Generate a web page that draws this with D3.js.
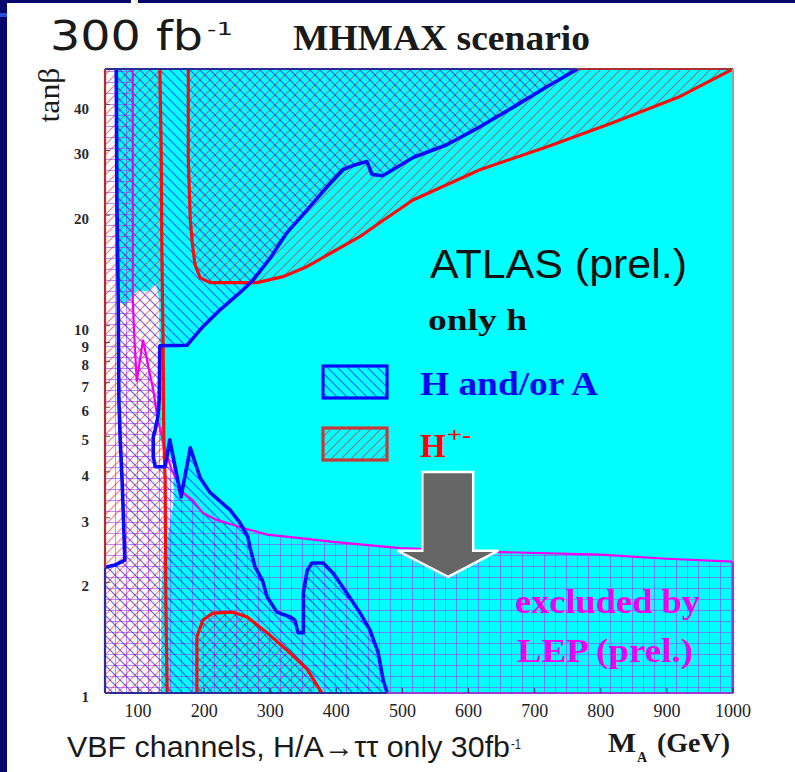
<!DOCTYPE html>
<html><head><meta charset="utf-8">
<script src="https://cdn.jsdelivr.net/npm/d3@7/dist/d3.min.js"></script>
<style>body{margin:0;background:#fff}svg{display:block}</style>
</head><body>
<svg id="c" width="795" height="772"></svg>
<script>
// ---------- data (MA in GeV, tan beta) ----------
const xTickValues = [100,200,300,400,500,600,700,800,900,1000];
const yTickValues = [1,2,3,4,5,6,7,8,9,10,20,30,40];

// H and/or A discovery region boundaries
const haLeftEdge = [[50,2.20],[65,2.23],[80,2.30],[79,2.61],[76,3.74],[73,4.89],[71,6.3],[70,11.8],[68,22.0],[67,50]];
const haRightEdge = [[765,50],[719,44.8],[667,39.3],[617,34.8],[567,31.1],[516,28.7],[496,27.3],[470,25.6],[454,25.8],[446,28.0],[425,27.3],[410,26.6],[386,23.9],[356,20.7],[325,17.9],[300,15.3],[274,13.3],[254,12.3],[224,11.05],[198,9.94],[174,8.85],[133,8.82],[132,6.3],[130,5.65],[126,5.21],[123,4.98],[123,4.40],[126,4.13],[141,4.13],[148,4.89],[165,3.42],[179,4.65],[194,3.85],[209,3.51],[239,3.15],[254,2.91],[266,2.66],[269,2.50],[277,2.20],[288,2.03],[295,1.83],[310,1.66],[330,1.61],[337,1.58],[342,1.46],[350,1.46],[350,1.87],[356,2.16],[363,2.26],[380,2.26],[395,2.12],[416,1.87],[436,1.65],[451,1.48],[463,1.29],[471,1.08],[477,1]];

// H+- discovery region boundaries
const hcLeftEdge = [[133,50],[135,30],[136,16],[138,8.6],[139,4.9],[141,3.8],[142,1.8],[144,1]];
const hcUpperEdge = [[176,50],[176,28.3],[179,19.4],[182,16.8],[186,14.7],[194,13.5],[209,13.1],[280,13.1],[319,13.6],[356,14.5],[395,15.9],[436,17.5],[466,19.1],[516,22.0],[617,26.6],[719,30.7],[818,35.7],[920,42.1],[1000,50]];
const hcLowEdge = [[189,1],[189,1.42],[198,1.58],[213,1.65],[244,1.66],[265,1.61],[295,1.46],[325,1.31],[356,1.16],[378,1]];

// LEP excluded region boundary
const lepEdge = [[92,50],[92,22],[92,11.8],[94,9.6],[98,7.04],[107.5,9.16],[115,7.83],[123,6.69],[130,5.54],[141,4.59],[151,4.05],[168,3.51],[182,3.36],[198,3.09],[219,2.96],[254,2.83],[295,2.70],[345,2.64],[395,2.58],[496,2.48],[648,2.42],[799,2.38],[900,2.32],[1000,2.28]];

// region with no discovery (not cyan)
const noDiscovery = [[50,50],[68,50],[70,22],[71,11.8],[80,11.3],[91,12.1],[100,12.5],[115,12.4],[127,13.1],[132,11.8],[133,4.89],[142,4.54],[153,4.26],[154,3.36],[148,2.87],[138,2.30],[135,1.79],[135,1],[50,1]];

// annotation arrow (data units)
const arrowShape = [[530,4.0],[607,4.0],[607,2.44],[645,2.44],[569,2.07],[492,2.44],[530,2.44]];

// ---------- scales ----------
const svg = d3.select('#c');
const x = d3.scaleLinear().domain([50,1000]).range([105,733]);
const y = d3.scaleLog().domain([1,50]).range([693,69]);
const line = d3.line().x(d=>x(d[0])).y(d=>y(d[1]));
const poly = pts => line(pts) + 'Z';
const [x0,x1] = x.domain(), [y0,y1] = y.domain();

// page decoration
svg.append('rect').attr('x',0).attr('y',0).attr('width',795).attr('height',772).attr('fill','#fff');
svg.append('rect').attr('x',0).attr('y',0).attr('width',795).attr('height',3).attr('fill','#07076e');
svg.append('rect').attr('x',0).attr('y',0).attr('width',7).attr('height',772).attr('fill','#07076e');
svg.append('rect').attr('x',131).attr('y',0).attr('width',4).attr('height',4).attr('fill','#fff');
svg.append('rect').attr('x',135).attr('y',0).attr('width',3).attr('height',5).attr('fill','#f4f0c8');
svg.append('rect').attr('x',0).attr('y',13).attr('width',7).attr('height',4).attr('fill','#2a4ad8');

// ---------- patterns ----------
const defs = svg.append('defs');
defs.append('clipPath').attr('id','plot').append('rect')
  .attr('x',x(x0)).attr('y',y(y1)).attr('width',x(x1)-x(x0)).attr('height',y(y0)-y(y1));

function hatch(id, color, op, w, dir, s){
  const p = defs.append('pattern').attr('id',id).attr('patternUnits','userSpaceOnUse')
    .attr('width',s).attr('height',s);
  const segs = dir==='back'
    ? [[0,0,s,s],[s-2,-2,s+2,2],[-2,s-2,2,s+2]]
    : [[0,s,s,0],[-2,2,2,-2],[s-2,s+2,s+2,s-2]];
  segs.forEach(g=>p.append('line').attr('x1',g[0]).attr('y1',g[1]).attr('x2',g[2]).attr('y2',g[3])
    .attr('stroke',color).attr('stroke-opacity',op).attr('stroke-width',w));
}
hatch('blueH','#0000ff',0.6,1.2,'back',10);
hatch('redH','#ff0000',0.5,1.2,'fwd',10);
const g11 = defs.append('pattern').attr('id','grid').attr('patternUnits','userSpaceOnUse').attr('width',11).attr('height',11);
g11.append('path').attr('d','M0,5.5H11M5.5,0V11').attr('stroke','#9a40ff').attr('stroke-opacity',0.6).attr('stroke-width',1).attr('fill','none');

// ---------- plot ----------
const plot = svg.append('g').attr('clip-path','url(#plot)');
plot.append('rect').attr('x',x(x0)).attr('y',y(y1)).attr('width',x(x1)-x(x0)).attr('height',y(y0)-y(y1)).attr('fill','#00ffff');
plot.append('path').attr('d',poly(noDiscovery)).attr('fill','#ffffff');

const lepRegion = [[x0,y1],...lepEdge,[x1,y0],[x0,y0]];
const haRegion = [[x0,y0],...haLeftEdge,...haRightEdge];
const hcLeftRegion = [[x0,y1],...hcLeftEdge,[x0,y0]];

plot.append('path').attr('d',poly(lepRegion)).attr('fill','url(#grid)');
plot.append('path').attr('d',poly(haRegion)).attr('fill','url(#blueH)');
[hcLeftRegion,hcUpperEdge,hcLowEdge].forEach(r=>plot.append('path').attr('d',poly(r)).attr('fill','url(#redH)'));

// boundary lines
plot.append('path').attr('d',line(lepEdge)).attr('fill','none').attr('stroke','#f000f0').attr('stroke-width',2.2);
[hcLeftEdge,hcUpperEdge,hcLowEdge].forEach(r=>plot.append('path').attr('d',line(r)).attr('fill','none')
  .attr('stroke','#ff0a0a').attr('stroke-width',3.2).attr('stroke-linejoin','round'));
[haLeftEdge,haRightEdge].forEach(r=>plot.append('path').attr('d',line(r)).attr('fill','none')
  .attr('stroke','#0a0aff').attr('stroke-width',3.6).attr('stroke-linejoin','round'));

// frame segments (coloured by adjoining region)
const haTop = haRightEdge[0][0], haBottom = haRightEdge[haRightEdge.length-1][0];
const lepRight = lepEdge[lepEdge.length-1][1], haLeftLow = haLeftEdge[0][1];
const frame = [
  [[[x0,y1],[haTop,y1]],'#2c2c96'],
  [[[haTop,y1],[x1,y1]],'#a83030'],
  [[[x1,y1],[x1,lepRight]],'#8fa6a6'],
  [[[x1,lepRight],[x1,y0]],'#9a3ccc'],
  [[[x1,y0],[haBottom,y0]],'#9a3ccc'],
  [[[haBottom,y0],[x0,y0]],'#2c2c96'],
  [[[x0,y0],[x0,haLeftLow]],'#2c2c96'],
  [[[x0,haLeftLow],[x0,y1]],'#a83030']
];
frame.forEach(f=>svg.append('path').attr('d',line(f[0])).attr('stroke',f[1]).attr('stroke-width',2.2).attr('fill','none'));

// ticks
svg.selectAll('.yt').data(yTickValues).enter().append('line')
  .attr('x1',x(x0)).attr('x2',x(x0)+5).attr('y1',d=>y(d)).attr('y2',d=>y(d)).attr('stroke','#704040').attr('stroke-width',1);
svg.selectAll('.xt').data(xTickValues).enter().append('line')
  .attr('x1',d=>x(d)).attr('x2',d=>x(d)).attr('y1',y(y0)).attr('y2',y(y0)-5).attr('stroke','#303070').attr('stroke-width',1);

// tick labels
svg.selectAll('.yl').data(yTickValues).enter().append('text')
  .attr('x',x(x0)-16).attr('y',d=>y(d)+9).attr('text-anchor','end')
  .attr('font-family','Liberation Serif, serif').attr('font-size',15).attr('font-weight','bold').attr('fill','#2a2a2a').text(d=>d);
svg.selectAll('.xl').data(xTickValues).enter().append('text')
  .attr('x',d=>x(d)).attr('y',717).attr('text-anchor','middle')
  .attr('font-family','Liberation Serif, serif').attr('font-size',18).attr('fill','#222').text(d=>d);

// arrow
svg.append('path').attr('d',poly(arrowShape)).attr('fill','#666666').attr('stroke','#ffffff').attr('stroke-width',2.5).attr('stroke-linejoin','miter');

// legend boxes
svg.append('rect').attr('x',323).attr('y',366).attr('width',64).attr('height',32).attr('fill','url(#blueH)').attr('stroke','#0a0aff').attr('stroke-width',3.2);
svg.append('rect').attr('x',323).attr('y',428).attr('width',64).attr('height',32).attr('fill','url(#redH)').attr('stroke','#c83a3a').attr('stroke-width',3.2);

// texts
function txt(t,xp,yp,o){
  const e = svg.append('text').attr('x',xp).attr('y',yp).text(t)
    .attr('font-family',o.ff).attr('font-size',o.fs).attr('fill',o.fill||'#111')
    .attr('font-weight',o.fw||'normal');
  if(o.tl) e.attr('textLength',o.tl).attr('lengthAdjust','spacingAndGlyphs');
  if(o.anchor) e.attr('text-anchor',o.anchor);
  return e;
}
const SANS='DejaVu Sans, Verdana, sans-serif', ARIAL='Liberation Sans, Arial, sans-serif', SERIF='Liberation Serif, Times New Roman, serif';
txt('300 fb',50,50,{ff:SANS,fs:41,tl:153,fill:'#1a1a1a'});
txt('-1',207,35,{ff:SANS,fs:17,tl:26,fill:'#1a1a1a'});
txt('MHMAX scenario',293,50,{ff:SERIF,fs:36,fw:'bold',tl:297,fill:'#1a1a1a'});
txt('tanβ',0,0,{ff:SERIF,fs:30,tl:55,anchor:'middle',fill:'#1a1a1a'}).attr('transform','translate(59,95) rotate(-90)');
txt('ATLAS (prel.)',430,278,{ff:ARIAL,fs:40,tl:257});
txt('only h',428,330,{ff:SERIF,fs:30,fw:'bold',tl:99});
txt('H and/or A',420,395,{ff:SERIF,fs:34,fw:'bold',tl:178,fill:'#0808ee'});
txt('H',420,457,{ff:SERIF,fs:33,fw:'bold',fill:'#ff0000'});
txt('+-',447,442,{ff:SERIF,fs:22,fw:'bold',tl:24,fill:'#ff0000'});
txt('excluded by',515,613,{ff:SERIF,fs:34,fw:'bold',tl:185,fill:'#f000f0'});
txt('LEP (prel.)',517,662,{ff:SERIF,fs:34,fw:'bold',tl:176,fill:'#f000f0'});
txt('VBF channels, H/A→ττ only 30fb',67,757,{ff:ARIAL,fs:30,tl:443,fill:'#1a1a1a'});
txt('-1',511,749,{ff:ARIAL,fs:14,tl:10,fill:'#1a1a1a'});
txt('M',608,752,{ff:SERIF,fs:27,fw:'bold',tl:28,fill:'#1a1a1a'});
txt('A',637,762,{ff:SERIF,fs:14,fw:'bold',fill:'#1a1a1a'});
txt('(GeV)',657,752,{ff:SERIF,fs:27,fw:'bold',tl:73,fill:'#1a1a1a'});
</script>
</body></html>
